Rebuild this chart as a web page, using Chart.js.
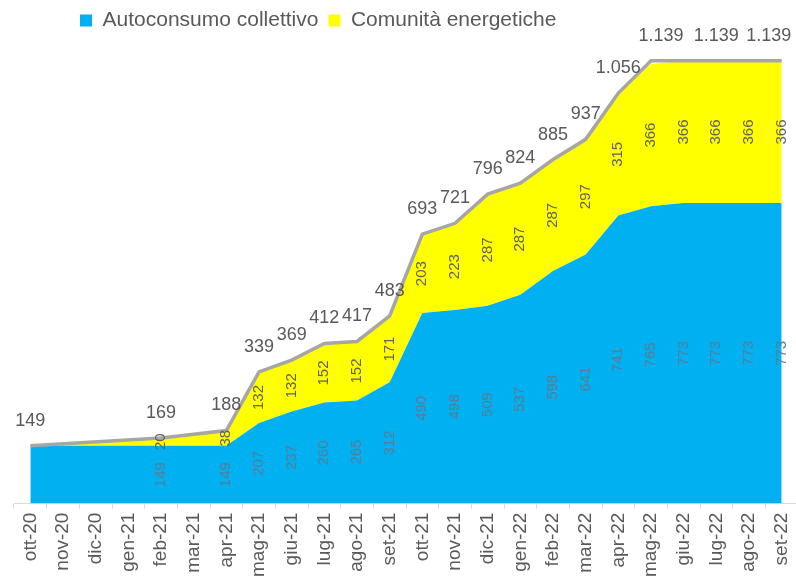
<!DOCTYPE html>
<html>
<head>
<meta charset="utf-8">
<script src="https://cdn.jsdelivr.net/npm/chart.js@4"></script>
<style>
  html, body { margin: 0; padding: 0; background: #fff; overflow: hidden; }
  #wrap { position: relative; width: 812px; height: 588px; }
</style>
</head>
<body>
<div id="wrap"><canvas id="chart"></canvas></div>
<script>
const months = ['ott-20', 'nov-20', 'dic-20', 'gen-21', 'feb-21', 'mar-21', 'apr-21', 'mag-21',
  'giu-21', 'lug-21', 'ago-21', 'set-21', 'ott-21', 'nov-21', 'dic-21', 'gen-22', 'feb-22',
  'mar-22', 'apr-22', 'mag-22', 'giu-22', 'lug-22', 'ago-22', 'set-22'];

// null = month without a value in the source
const autoconsumo = [149, null, null, null, 149, null, 149, 207, 237, 260, 265, 312,
  490, 498, 509, 537, 598, 641, 741, 765, 773, 773, 773, 773];
const comunita = [0, null, null, null, 20, null, 38, 132, 132, 152, 152, 171,
  203, 223, 287, 287, 287, 297, 315, 366, 366, 366, 366, 366];
const totals = [149, null, null, null, 169, null, 188, 339, 369, 412, 417, 483,
  693, 721, 796, 824, 885, 937, 1056, 1139, 1139, 1139, 1139, 1139];

const FONT = '"Liberation Sans", Arial, sans-serif';
const hiddenTotals = [20, 22];          // labels removed in the original
const totalNudge = { 19: 10, 23: -13 }; // labels moved by hand in the original

function fmt(n) {
  if (n < 1000) return String(n);
  return Math.floor(n / 1000) + '.' + String(n % 1000).padStart(3, '0');
}

function vertText(ctx, text, x, y, color) {
  ctx.save();
  ctx.translate(x, y);
  ctx.rotate(-Math.PI / 2);
  ctx.fillStyle = color;
  ctx.fillText(text, 0, 0);
  ctx.restore();
}

const valueLabels = {
  id: 'valueLabels',
  afterLayout(chart) {
    chart.legend.left = 70;
  },
  afterDatasetsDraw(chart) {
    const ctx = chart.ctx;
    const base = chart.scales.y.getPixelForValue(0);
    const blue = chart.getDatasetMeta(0).data;
    const yel = chart.getDatasetMeta(1).data;
    const tot = chart.getDatasetMeta(2).data;
    ctx.save();
    ctx.textAlign = 'center';
    ctx.textBaseline = 'middle';
    ctx.font = '15px ' + FONT;
    months.forEach((m, i) => {
      if (!comunita[i]) return;
      vertText(ctx, String(autoconsumo[i]), blue[i].x, (blue[i].y + base) / 2, '#5a7d94');
      vertText(ctx, String(comunita[i]), yel[i].x, (yel[i].y + blue[i].y) / 2, '#626262');
    });
    ctx.font = '18px ' + FONT;
    ctx.fillStyle = '#595959';
    totals.forEach((v, i) => {
      if (v == null || hiddenTotals.includes(i)) return;
      ctx.fillText(fmt(v), tot[i].x + (totalNudge[i] || 0), tot[i].y - 25);
    });
    ctx.restore();
  }
};

new Chart(document.getElementById('chart'), {
  type: 'line',
  data: {
    labels: months,
    datasets: [
      {
        label: 'Autoconsumo collettivo',
        data: autoconsumo,
        backgroundColor: '#00B0F0',
        borderWidth: 0,
        fill: 'origin',
        order: 1
      },
      {
        label: 'Comunità energetiche',
        data: comunita,
        backgroundColor: '#FFFF00',
        borderWidth: 0,
        fill: '-1',
        order: 1
      },
      {
        label: 'Totale',
        data: totals,
        borderColor: '#A6A6A6',
        borderWidth: 3.5,
        fill: false,
        stack: 'total',
        order: 0
      }
    ]
  },
  options: {
    responsive: true,
    maintainAspectRatio: false,
    animation: false,
    spanGaps: true,
    elements: { point: { radius: 0, hoverRadius: 0 }, line: { tension: 0 } },
    layout: { padding: { left: 14, right: 14, top: 0, bottom: 7 } },
    scales: {
      x: {
        offset: true,
        grid: { offset: true, drawOnChartArea: false, tickLength: 5, color: '#d9d9d9' },
        border: { color: '#d9d9d9' },
        ticks: { autoSkip: false, minRotation: 90, maxRotation: 90, padding: 4, color: '#595959', font: { size: 19, family: FONT } }
      },
      y: { stacked: true, min: 0, max: 1190, display: false }
    },
    plugins: {
      legend: {
        align: 'start',
        labels: {
          filter: item => item.datasetIndex < 2,
          boxWidth: 12,
          boxHeight: 12,
          padding: 10,
          color: '#595959',
          font: { size: 21, family: FONT }
        }
      },
      tooltip: { enabled: false }
    }
  },
  plugins: [valueLabels]
});
</script>
</body>
</html>
